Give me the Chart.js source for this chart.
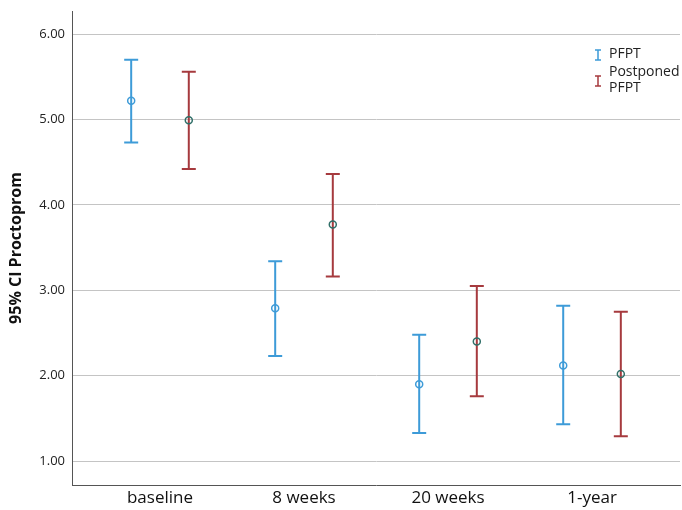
<!DOCTYPE html>
<html>
<head>
<meta charset="utf-8">
<script src="https://cdn.jsdelivr.net/npm/chart.js@4.4.0/dist/chart.umd.min.js"></script>
<style>
  html, body { margin: 0; padding: 0; background: #fff; }
  #wrap { width: 682px; height: 510px; }
</style>
</head>
<body>
<div id="wrap"><canvas id="myChart"></canvas></div>
<script>
var categories = ["baseline", "8 weeks", "20 weeks", "1-year"];
var yTicks = [1, 2, 3, 4, 5, 6];

var pfptMean = [5.22, 2.79, 1.90, 2.12];
var pfptLow  = [4.73, 2.23, 1.33, 1.43];
var pfptHigh = [5.70, 3.34, 2.48, 2.82];

var postMean = [4.99, 3.77, 2.40, 2.02];
var postLow  = [4.42, 3.16, 1.76, 1.29];
var postHigh = [5.56, 4.36, 3.05, 2.75];

var blue = "#3d9bd8";
var red = "#a63a3e";
var teal = "#2f6f68";
var shift = 0.2;

function pts(means, off) {
  return means.map(function(m, i) { return { x: i + 1 + off, y: m }; });
}

function noPad(s) {
  s.paddingTop = 0;
  s.paddingBottom = 0;
  s.paddingLeft = 0;
  s.paddingRight = 0;
}

var errorBars = {
  id: "errorBars",
  beforeDatasetsDraw: function(chart) {
    var ctx = chart.ctx;
    var xs = chart.scales.x, ys = chart.scales.y;
    var sets = [
      { low: pfptLow, high: pfptHigh, off: -shift, color: blue },
      { low: postLow, high: postHigh, off: shift, color: red }
    ];
    ctx.save();
    ctx.lineWidth = 2;
    sets.forEach(function(s) {
      ctx.strokeStyle = s.color;
      s.low.forEach(function(lo, i) {
        var x = xs.getPixelForValue(i + 1 + s.off);
        var y1 = ys.getPixelForValue(lo);
        var y2 = ys.getPixelForValue(s.high[i]);
        ctx.beginPath();
        ctx.moveTo(x, y1); ctx.lineTo(x, y2);
        ctx.moveTo(x - 7, y1); ctx.lineTo(x + 7, y1);
        ctx.moveTo(x - 7, y2); ctx.lineTo(x + 7, y2);
        ctx.stroke();
      });
    });
    ctx.restore();
  },
  afterDraw: function(chart) {
    var ctx = chart.ctx;
    ctx.save();
    ctx.font = "14px 'Open Sans'";
    ctx.fillStyle = "#222";
    ctx.textBaseline = "middle";
    var items = [
      { color: blue, lines: ["PFPT"], y: 54, iy: 55 },
      { color: red, lines: ["Postponed", "PFPT"], y: 72, iy: 81 }
    ];
    items.forEach(function(it) {
      ctx.strokeStyle = it.color;
      ctx.lineWidth = 1.5;
      ctx.beginPath();
      ctx.moveTo(598, it.iy - 5); ctx.lineTo(598, it.iy + 5);
      ctx.moveTo(595, it.iy - 5); ctx.lineTo(601, it.iy - 5);
      ctx.moveTo(595, it.iy + 5); ctx.lineTo(601, it.iy + 5);
      ctx.stroke();
      it.lines.forEach(function(t, k) {
        ctx.fillText(t, 609, it.y + k * 16);
      });
    });
    ctx.restore();
  }
};

new Chart("myChart", {
  type: "scatter",
  data: {
    datasets: [
      {
        label: "PFPT",
        data: pts(pfptMean, -shift),
        borderColor: blue,
        backgroundColor: "rgba(255,255,255,0)",
        pointRadius: 3.5,
        pointBorderWidth: 1.5
      },
      {
        label: "Postponed PFPT",
        data: pts(postMean, shift),
        borderColor: teal,
        backgroundColor: "rgba(255,255,255,0)",
        pointRadius: 3.5,
        pointBorderWidth: 1.5
      }
    ]
  },
  options: {
    responsive: true,
    maintainAspectRatio: false,
    animation: false,
    layout: { autoPadding: false, padding: { top: 11, right: 2, left: 0, bottom: 0 } },
    plugins: {
      legend: { display: false },
      tooltip: { enabled: false }
    },
    scales: {
      x: {
        type: "linear",
        min: 0.389,
        max: 4.611,
        afterBuildTicks: function(s) {
          s.ticks = categories.map(function(c, i) { return { value: i + 1 }; });
        },
        afterFit: function(s) {
          s.height = 25;
          noPad(s);
        },
        grid: { color: "rgba(0,0,0,0)", drawTicks: false },
        border: { display: true, color: "#555", width: 1 },
        ticks: {
          color: "#111",
          font: { family: "'Open Sans'", size: 17 },
          padding: 3,
          maxRotation: 0,
          callback: function(v) { return categories[v - 1]; }
        }
      },
      y: {
        min: 0.72,
        max: 6.27,
        afterBuildTicks: function(s) {
          s.ticks = yTicks.map(function(v) { return { value: v }; });
        },
        afterFit: function(s) {
          s.width = 72;
          noPad(s);
        },
        grid: { color: "#c4c4c4", lineWidth: 1, drawTicks: false },
        border: { display: true, color: "#555", width: 1 },
        title: {
          display: true,
          text: "95% CI Proctoprom",
          color: "#111",
          font: { family: "'Open Sans'", size: 16, weight: "bold" },
          padding: { top: 7, bottom: 0 }
        },
        ticks: {
          color: "#222",
          font: { family: "'Open Sans'", size: 13 },
          padding: 7,
          callback: function(v) { return v.toFixed(2); }
        }
      }
    }
  },
  plugins: [errorBars]
});
</script>
</body>
</html>
